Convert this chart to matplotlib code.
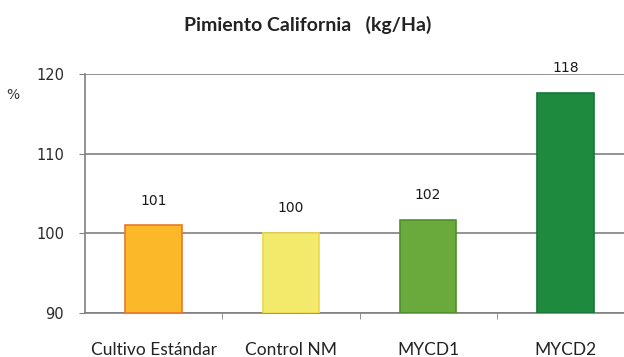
import numpy as np
import matplotlib.pyplot as plt

# Rendimiento relativo (%), pimiento California
categorias = ['Cultivo Estándar', 'Control NM', 'MYCD1', 'MYCD2']
valores = [101.0, 100.1, 101.7, 117.6]
y_ticks = [90, 100, 110, 120]
colores = ['#fbb829', '#f3ea6c', '#6aa93c', '#1d8a3e']
bordes = ['#e9792c', '#eed84c', '#4f8f2d', '#17753a']

plt.rcParams['font.family'] = ['Lato', 'DejaVu Sans']

fig = plt.figure(figsize=(6.24, 3.57), dpi=100)
ax = fig.add_axes([85 / 624, 1 - 313 / 357, 549 / 624, 239 / 357])

x = np.arange(len(categorias))
ax.bar(x, np.array(valores) - 90, bottom=90, width=0.41,
       color=colores, edgecolor=bordes, linewidth=1.2, zorder=3)

# etiquetas de valor sobre cada barra
for xi, v in zip(x, valores):
    ax.text(xi, v + 3.1, '%.0f' % v, ha='center', va='center',
            fontsize=10, color='#1a1a1a', family='DejaVu Sans')

ax.set_xlim(-0.5, len(categorias) - 0.5)
ax.set_ylim(y_ticks[0], y_ticks[-1])
ax.set_yticks(y_ticks)
ax.set_yticklabels([str(t) for t in y_ticks], family='DejaVu Sans',
                   fontsize=10.5, color='#2a2a2a')
ax.yaxis.grid(True, color='#808080', linewidth=1.2, zorder=0)

ax.set_xticks(x)
ax.set_xticklabels(categorias, fontsize=12.5, color='#222222')
ax.set_xticks(x[:-1] + 0.5, minor=True)
ax.tick_params(axis='x', which='major', length=0, pad=21)
ax.tick_params(axis='x', which='minor', length=4, color='#808080', direction='out')
ax.tick_params(axis='y', length=4, color='#808080', pad=11)

for s in ['top', 'right']:
    ax.spines[s].set_visible(False)
for s in ['left', 'bottom']:
    ax.spines[s].set_color('#808080')
    ax.spines[s].set_linewidth(1.2)

fig.text(308 / 624, 1 - 25 / 357, 'Pimiento California   (kg/Ha)',
         ha='center', va='center', fontsize=14, fontweight='bold', color='#222222')
fig.text(13 / 624, 1 - 95 / 357, '%', ha='center', va='center',
         fontsize=10, color='#333333', family='DejaVu Sans')

fig.savefig('out.png', dpi=100)
